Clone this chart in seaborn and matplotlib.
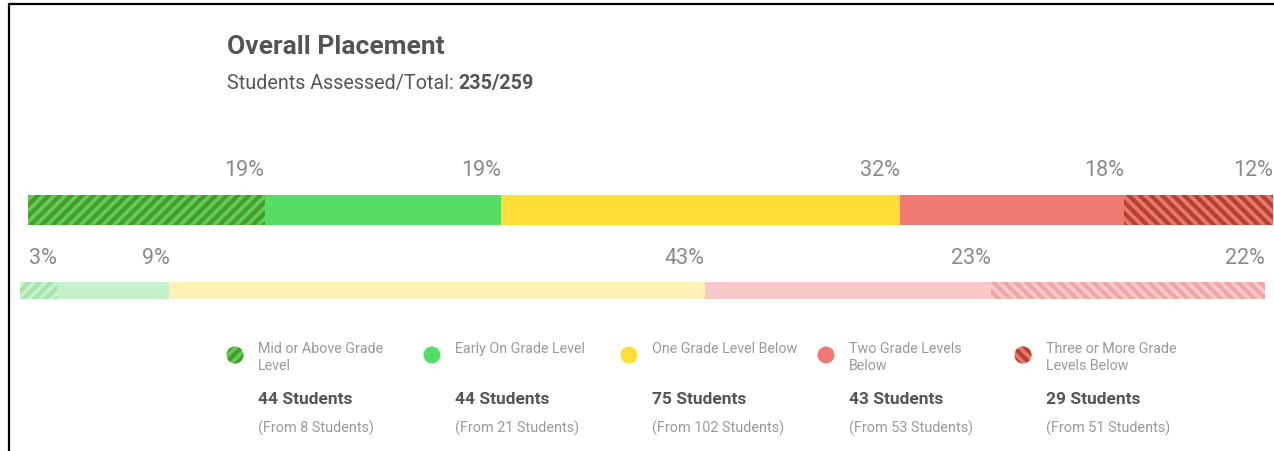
import numpy as np
import matplotlib.pyplot as plt
from matplotlib.lines import Line2D
from matplotlib.patches import Circle
import seaborn as sns

# data
levels = ['Mid or Above Grade\nLevel', 'Early On Grade Level', 'One Grade Level Below',
          'Two Grade Levels\nBelow', 'Three or More Grade\nLevels Below']
placed = [44, 44, 75, 43, 29]          # overall placement
from_students = [8, 21, 102, 53, 51]   # earlier placement
top_pct = [19, 19, 32, 18, 12]
bottom_pct = [3, 9, 43, 23, 22]
assessed, total = 235, 259

top_colors = ['#5ccf55', '#55dd66', '#ffdf36', '#ef7a74', '#f07570']
top_hatch_colors = ['#4b9a2f', None, None, None, '#b0452f']
bottom_colors = ['#c6f1cb', '#c3f1c9', '#fff0ba', '#f8c8c8', '#f8cbcb']
bottom_hatch_colors = ['#a2e6ab', None, None, None, '#f0a6a6']
hatches = ['///', None, None, None, '\\\\\\']

sns.set_theme(style='white')
plt.rcParams['font.family'] = ['Roboto', 'DejaVu Sans']
plt.rcParams['hatch.linewidth'] = 3.0

W, H = 1274, 452
fig = plt.figure(figsize=(W / 100, H / 100), dpi=100)
fig.patch.set_facecolor('white')

# frame lines from the screenshot
fig.add_artist(Line2D([9 / W, 9 / W], [0, 1 - 5 / H], color='black', lw=1.6))
fig.add_artist(Line2D([9 / W, 1], [1 - 5 / H, 1 - 5 / H], color='black', lw=1.6))


def stacked_bar(ax, values, colors, hcolors):
    left = np.concatenate([[0], np.cumsum(values)[:-1]])
    for v, l, c, hc, h in zip(values, left, colors, hcolors, hatches):
        ax.barh(0, v, left=l, height=1, color=c, edgecolor=hc if hc else c,
                hatch=h, linewidth=0)
        ax.annotate(f'{v}%', xy=(l + v, 1), xycoords=('data', 'axes fraction'),
                    xytext=(0, 18), textcoords='offset points',
                    ha='right', va='center', fontsize=15.5, color='#8a8a8a')
    ax.set_xlim(0, sum(values))
    ax.set_ylim(-0.5, 0.5)
    ax.axis('off')


ax1 = fig.add_axes([28 / W, 1 - 226 / H, 1245 / W, 30 / H])
stacked_bar(ax1, top_pct, top_colors, top_hatch_colors)

ax2 = fig.add_axes([20 / W, 1 - 300 / H, 1245 / W, 17 / H])
stacked_bar(ax2, bottom_pct, bottom_colors, bottom_hatch_colors)

# title block
fig.text(227 / W, 1 - 47 / H, 'Overall Placement', fontsize=19, fontweight='bold',
         color='#555555', va='center', ha='left')
t = fig.text(227 / W, 1 - 83 / H, 'Students Assessed/Total: ', fontsize=14.2,
             color='#555555', va='center', ha='left')
fig.canvas.draw()
bb = t.get_window_extent()
fig.text(bb.x1 / W, 1 - 83 / H, f'{assessed}/{total}', fontsize=14.2, fontweight='bold',
         color='#555555', va='center', ha='left')

# legend
lg = fig.add_axes([0, 0, 1, 1], zorder=-1)
lg.set_xlim(0, W)
lg.set_ylim(H, 0)
lg.axis('off')
for i, (name, n, f) in enumerate(zip(levels, placed, from_students)):
    x0 = 235 + i * 197
    lg.add_patch(Circle((x0, 356), 8.5, facecolor=top_colors[i],
                        edgecolor=top_hatch_colors[i] or top_colors[i],
                        hatch=hatches[i], linewidth=0))
    lg.text(x0 + 23, 342, name, fontsize=10.3, color='#999999', va='top', ha='left',
            linespacing=1.3)
    lg.text(x0 + 23, 400, f'{n} Students', fontsize=12.5, fontweight='bold',
            color='#555555', va='center', ha='left')
    lg.text(x0 + 23, 428, f'(From {f} Students)', fontsize=10.4, color='#999999',
            va='center', ha='left')

fig.savefig('out.png', dpi=100, facecolor='white')
